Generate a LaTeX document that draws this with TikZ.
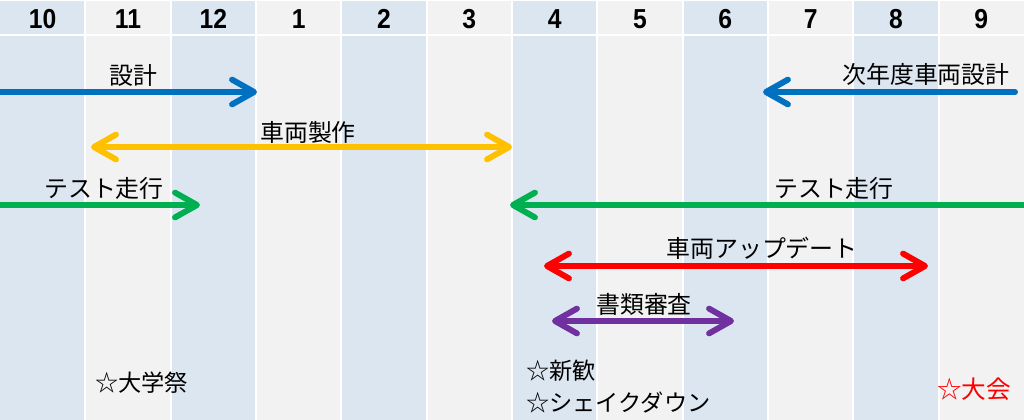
\documentclass[tikz,border=0pt]{standalone}
\usepackage{fontspec}
\usetikzlibrary{arrows.meta}
\newfontfamily\jp{Noto Sans CJK JP}
\newfontfamily\hd[FakeStretch=0.9]{Liberation Sans}
\definecolor{bandblue}{HTML}{DCE6F1}
\definecolor{bandgray}{HTML}{F2F2F2}
\definecolor{arrblue}{HTML}{0070C0}
\definecolor{arryellow}{HTML}{FFC000}
\definecolor{arrgreen}{HTML}{00B050}
\definecolor{arrred}{HTML}{FF0000}
\definecolor{arrpurple}{HTML}{7030A0}
\tikzset{
	month/.style={font=\hd\bfseries\fontsize{19.5}{21}\selectfont, text=black},
	lbl/.style={font=\jp\fontsize{17}{19}\selectfont, text=black, inner sep=0pt},
	evt/.style={font=\jp\fontsize{16.5}{19}\selectfont, text=black, inner sep=0pt, anchor=west},
	arr/.style={line width=4.2pt, line cap=round, -{Straight Barb[round,length=0.55cm,width=0.62cm]}},
	darr/.style={line width=4.2pt, line cap=round, {Straight Barb[round,length=0.55cm,width=0.62cm]}-{Straight Barb[round,length=0.55cm,width=0.62cm]}}
}

\begin{document}
\begin{tikzpicture}[x=0.025cm, y=-0.025cm]
		%%%%% START %%%%%
		
		\fill[white] (0, 0) rectangle (1024, 420);
		\useasboundingbox (0, 0) rectangle (1024, 420);
		
		\fill[bandblue] (0, 1) rectangle (84.3, 420);
		\fill[bandgray] (86.3, 1) rectangle (169.7, 420);
		\fill[bandblue] (171.7, 1) rectangle (255, 420);
		\fill[bandgray] (257, 1) rectangle (340.3, 420);
		\fill[bandblue] (342.3, 1) rectangle (425.7, 420);
		\fill[bandgray] (427.7, 1) rectangle (511, 420);
		\fill[bandblue] (513, 1) rectangle (596.3, 420);
		\fill[bandgray] (598.3, 1) rectangle (681.7, 420);
		\fill[bandblue] (683.7, 1) rectangle (767, 420);
		\fill[bandgray] (769, 1) rectangle (852.3, 420);
		\fill[bandblue] (854.3, 1) rectangle (937.7, 420);
		\fill[bandgray] (939.7, 1) rectangle (1024, 420);
		
		\fill[white] (0, 34) rectangle (1024, 36);
		
		\node[month] (m10) at (42.7, 19) {10};
		\node[month] (m11) at (128, 19) {11};
		\node[month] (m12) at (213.3, 19) {12};
		\node[month] (m1) at (298.7, 19) {1};
		\node[month] (m2) at (384, 19) {2};
		\node[month] (m3) at (469.3, 19) {3};
		\node[month] (m4) at (554.7, 19) {4};
		\node[month] (m5) at (640, 19) {5};
		\node[month] (m6) at (725.3, 19) {6};
		\node[month] (m7) at (810.7, 19) {7};
		\node[month] (m8) at (896, 19) {8};
		\node[month] (m9) at (981.3, 19) {9};
		
		\coordinate (designA) at (-4, 92);
		\coordinate (designB) at (257, 92);
		\draw[arr, color=arrblue] (designA) -- (designB);
		\node[lbl] (design) at (133, 75) {設計};
		
		\coordinate (nextA) at (1015, 92);
		\coordinate (nextB) at (763, 92);
		\draw[arr, color=arrblue] (nextA) -- (nextB);
		\node[lbl] (next) at (926, 74) {次年度車両設計};
		
		\coordinate (buildA) at (91, 147);
		\coordinate (buildB) at (512, 147);
		\draw[darr, color=arryellow] (buildA) -- (buildB);
		\node[lbl] (build) at (308, 132) {車両製作};
		
		\coordinate (testA) at (-4, 205);
		\coordinate (testB) at (200, 205);
		\draw[arr, color=arrgreen] (testA) -- (testB);
		\node[lbl] (test) at (104, 188) {テスト走行};
		
		\coordinate (retestA) at (1030, 205);
		\coordinate (retestB) at (510, 205);
		\draw[arr, color=arrgreen] (retestA) -- (retestB);
		\node[lbl] (retest) at (834, 188) {テスト走行};
		
		\coordinate (updateA) at (544, 266);
		\coordinate (updateB) at (928, 266);
		\draw[darr, color=arrred] (updateA) -- (updateB);
		\node[lbl] (update) at (762, 248) {車両アップデート};
		
		\coordinate (docsA) at (552, 321);
		\coordinate (docsB) at (734, 321);
		\draw[darr, color=arrpurple] (docsA) -- (docsB);
		\node[lbl] (docs) at (644, 304) {書類審査};
		
		\node[evt] (fest) at (95, 383) {☆大学祭};
		\node[evt] (welcome) at (526, 371) {☆新歓};
		\node[evt] (shake) at (526, 402) {☆シェイクダウン};
		\node[evt, text=arrred, font=\jp\fontsize{17.5}{19}\selectfont] (race) at (937, 389) {☆大会};
		
		%%%%% END %%%%%
\end{tikzpicture}
\end{document}
